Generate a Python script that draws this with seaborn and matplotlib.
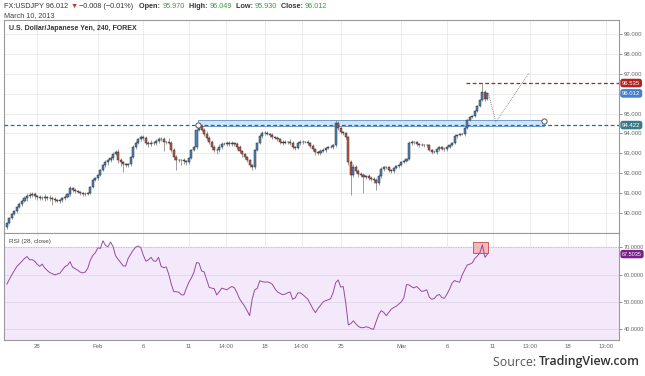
import numpy as np
import pandas as pd
import matplotlib
matplotlib.use("Agg")
import matplotlib.pyplot as plt
import seaborn as sns

# USD/JPY 4h closes, one row per trading day (Jan 24 .. Mar 8, 2013)
closes = [
    89.50, 89.75, 89.95, 90.10, 90.30, 90.48,
    90.63, 90.78, 90.88, 90.90, 90.95, 90.85,
    90.80, 90.75, 90.78, 90.80, 90.78, 90.75,
    90.70, 90.65, 90.63, 90.68, 90.75, 90.83,
    90.95, 91.26, 91.18, 91.10, 91.05, 91.00,
    90.95, 90.98, 91.00, 91.31, 91.66, 91.76,
    91.91, 92.16, 92.41, 92.56, 92.66, 92.76,
    92.96, 93.07, 92.66, 92.56, 92.46, 92.41,
    92.46, 92.81, 93.32, 93.52, 93.72, 93.82,
    93.77, 93.52, 93.47, 93.52, 93.52, 93.62,
    93.72, 93.72, 93.57, 93.57, 93.52, 93.17,
    92.81, 92.66, 92.66, 92.66, 92.61, 92.56,
    92.76, 93.17, 93.32, 94.17, 94.37, 94.17,
    93.97, 93.77, 93.57, 93.32, 93.17, 93.17,
    93.32, 93.47, 93.47, 93.52, 93.47, 93.52,
    93.47, 93.32, 93.12, 92.96, 92.81, 92.66,
    92.41, 92.31, 93.17, 93.52, 93.87, 94.02,
    94.02, 93.97, 93.92, 93.82, 93.77, 93.72,
    93.57, 93.52, 93.57, 93.57, 93.52, 93.32,
    93.27, 93.52, 93.57, 93.57, 93.57, 93.52,
    93.37, 93.22, 93.07, 93.02, 93.12, 93.17,
    93.27, 93.32, 93.32, 93.42, 94.52, 94.27,
    94.07, 94.02, 93.82, 92.56, 91.91, 92.31,
    92.11, 91.96, 91.91, 91.81, 91.86, 91.78,
    91.71, 91.66, 91.51, 91.86, 92.21, 92.31,
    92.31, 92.16, 92.11, 92.26, 92.36, 92.41,
    92.56, 92.61, 92.71, 93.52, 93.57, 93.57,
    93.47, 93.42, 93.42, 93.42, 93.42, 93.17,
    93.07, 93.07, 93.22, 93.32, 93.22, 93.22,
    93.32, 93.42, 93.52, 93.87, 93.92, 93.97,
    93.97, 94.27, 94.67, 94.82, 94.87, 95.13,
    95.38, 95.68, 96.10, 95.75, 96.012,
]
first_open = 89.30

# wick length above / below the body
up_wick = [
    .05, .06, .04, .08, .05, .07,
    .06, .10, .12, .15, .12, .10,
    .08, .12, .10, .14, .08, .12,
    .06, .10, .08, .05, .06, .10,
    .08, .10, .06, .08, .05, .06,
    .06, .08, .05, .06, .10, .06,
    .05, .08, .06, .10, .06, .12,
    .10, .08, .15, .10, .08, .06,
    .06, .05, .08, .10, .06, .12,
    .10, .12, .08, .15, .10, .08,
    .12, .10, .08, .06, .20, .10,
    .08, .10, .06, .08, .10, .06,
    .05, .06, .05, .06, .05, .10,
    .10, .15, .08, .10, .12, .08,
    .15, .10, .08, .12, .10, .08,
    .06, .08, .10, .06, .08, .05,
    .05, .06, .05, .06, .08, .10,
    .08, .10, .06, .08, .05, .08,
    .06, .10, .08, .05, .15, .08,
    .06, .12, .08, .10, .06, .08,
    .06, .08, .05, .06, .08, .10,
    .06, .05, .08, .06, .15, .10,
    .08, .06, .05, .06, .10, .15,
    .10, .12, .08, .10, .06, .08,
    .06, .10, .08, .08, .10, .06,
    .08, .06, .05, .06, .08, .05,
    .06, .05, .05, .10, .08, .06,
    .06, .05, .08, .06, .05, .06,
    .05, .08, .06, .05, .06, .08,
    .05, .06, .05, .08, .06, .05,
    .06, .05, .08, .06, .05, .06,
    .05, .06, .44, .06, .04,
]
down_wick = [
    .08, .05, .06, .05, .08, .06,
    .10, .08, .15, .12, .10, .15,
    .12, .10, .08, .15, .10, .12,
    .30, .10, .08, .12, .10, .08,
    .06, .10, .12, .08, .06, .10,
    .08, .10, .06, .05, .06, .05,
    .08, .05, .06, .10, .12, .08,
    .10, .06, .15, .20, .40, .10,
    .08, .10, .06, .08, .05, .10,
    .10, .12, .15, .08, .10, .12,
    .10, .08, .45, .10, .06, .10,
    .15, .50, .10, .25, .15, .12,
    .08, .06, .05, .08, .05, .06,
    .08, .10, .12, .15, .10, .20,
    .10, .08, .06, .10, .08, .12,
    .10, .08, .10, .12, .10, .08,
    .10, .15, .10, .06, .05, .08,
    .08, .06, .10, .08, .06, .10,
    .08, .10, .06, .08, .10, .12,
    .10, .06, .08, .10, .06, .12,
    .10, .08, .15, .10, .08, .06,
    .08, .06, .05, .08, .10, .12,
    .10, .08, .10, .15, 1.00, .10,
    .12, .15, .10, .80, .10, .12,
    .10, .15, .35, .10, .08, .10,
    .10, .08, .12, .10, .06, .08,
    .05, .06, .06, .05, .08, .10,
    .10, .08, .06, .08, .10, .06,
    .08, .06, .10, .08, .06, .10,
    .08, .06, .05, .06, .08, .06,
    .06, .08, .06, .05, .06, .05,
    .05, .06, .05, .10, .08,
]

# RSI(28, close), one value per bar
rsi_values = [
    56.4, 58.2, 59.9, 61.5, 63.0, 63.9,
    64.9, 65.9, 66.6, 65.4, 65.5, 64.9,
    63.8, 63.0, 63.8, 62.4, 61.5, 60.7,
    60.3, 59.9, 60.2, 60.5, 61.7, 62.9,
    63.4, 64.7, 62.7, 62.2, 61.6, 60.9,
    60.6, 60.9, 62.3, 65.2, 67.0, 68.0,
    69.8, 69.6, 72.4, 70.7, 70.2, 71.9,
    70.3, 66.9, 65.6, 64.4, 63.2, 63.1,
    66.0, 67.5, 69.0, 70.1, 70.5, 69.8,
    67.0, 64.9, 65.4, 66.3, 65.0, 64.9,
    66.3, 63.0, 62.5, 62.8, 60.2, 56.6,
    53.7, 53.7, 53.5, 52.6, 52.5, 55.0,
    57.2, 58.8, 60.9, 64.4, 64.2, 61.3,
    61.0, 58.2, 55.3, 55.0, 54.8, 52.5,
    53.7, 55.0, 54.7, 54.4, 55.1, 55.6,
    55.1, 53.3, 51.1, 49.7, 48.4, 46.7,
    44.9, 51.0, 54.4, 54.9, 57.7, 57.4,
    57.2, 57.3, 57.0, 56.4, 54.8, 53.6,
    53.1, 52.6, 52.8, 53.3, 53.6, 50.9,
    51.4, 53.2, 53.3, 52.6, 51.8, 50.9,
    49.2, 47.4, 46.0, 47.5, 48.7, 49.9,
    50.4, 50.7, 51.1, 53.4, 57.0, 58.0,
    55.4, 55.6, 49.5, 41.5, 42.0, 43.0,
    41.9, 40.9, 40.5, 40.5, 40.8, 40.6,
    40.1, 39.9, 42.7, 45.3, 46.7, 46.1,
    44.9, 46.1, 47.3, 47.9, 48.4, 49.2,
    50.0, 51.6, 56.3, 56.2, 55.5, 55.1,
    55.6, 54.7, 53.8, 54.0, 54.4, 51.7,
    50.9, 51.2, 52.3, 52.7, 51.5, 51.3,
    52.8, 54.6, 56.8, 57.8, 57.4, 57.2,
    59.8, 61.7, 63.5, 63.8, 64.3, 65.9,
    66.8, 68.0, 70.9, 66.3, 67.5,
]

tick_pos = [12, 36, 54, 72, 86.5, 102, 116.5, 132, 156, 174, 192, 207, 222, 237]
tick_labels = ["28", "Feb", "6", "11", "14:00", "18", "14:00", "25", "Mar",
               "6", "11", "13:00", "18", "13:00"]
price_ticks = [90, 91, 92, 93, 94, 95, 96, 97, 98, 99]
# the 96.000 label sits under the last-price marker in the original
price_labels = ["90.000", "91.000", "92.000", "93.000", "94.000", "95.000", "",
                "97.000", "98.000", "99.000"]
rsi_ticks = [40, 50, 60, 70]

support_level = 94.422
resistance_level = 96.535
last_rsi = 67.5035
zone_bars = [75.5, 212.3]
zone_prices = [94.37, 94.66]
projection_x = [190.4, 193.3, 206.4]
projection_y = [96.02, 94.58, 97.03]
rsi_box_bars = [184.4, 190.3]
rsi_box_vals = [67.8, 72.05]

# build candle table
df = pd.DataFrame({"close": closes})
df["open"] = [first_open] + closes[:-1]
df["high"] = df[["open", "close"]].max(axis=1) + np.array(up_wick)
df["low"] = df[["open", "close"]].min(axis=1) - np.array(down_wick)
df["bar"] = np.arange(len(df))
df["up"] = df["close"] >= df["open"]
last_close = closes[-1]

sns.set_theme(style="white")
plt.rcParams["font.family"] = ["Liberation Sans", "DejaVu Sans"]

W, H = 645, 376
fig = plt.figure(figsize=(W / 100, H / 100), dpi=100)
fig.patch.set_facecolor("white")


def fx(px):
    return px / W


def fy(py):
    return 1 - py / H


left, right = 4, 619
ax = fig.add_axes([fx(left), fy(233), fx(right - left), fy(20) - fy(233)])
ax2 = fig.add_axes([fx(left), fy(340), fx(right - left), fy(233) - fy(340)], sharex=ax)

grid_c = "#e9e9e9"
spine_c = "#9a9a9a"
for a in (ax, ax2):
    for t in tick_pos:
        a.axvline(t, color=grid_c, lw=0.6, zorder=0)
    for s in a.spines.values():
        s.set_color(spine_c)
        s.set_linewidth(0.8)
    a.yaxis.tick_right()
    a.tick_params(axis="y", labelsize=4.3, colors="#666666", length=2, width=0.5, pad=1.5)

for p in price_ticks:
    ax.axhline(p, color=grid_c, lw=0.6, zorder=0)

# candles
up_c, dn_c = "#4a86c4", "#cc5640"
ax.vlines(df["bar"], df["low"], df["high"], color="#777777", lw=0.5, zorder=2)
body_lo = df[["open", "close"]].min(axis=1)
body_h = (df["close"] - df["open"]).abs().clip(lower=0.015)
ax.bar(df["bar"], body_h, bottom=body_lo, width=0.82,
       color=np.where(df["up"], up_c, dn_c), edgecolor="#2b2b2b",
       linewidth=0.35, zorder=3)

# support zone and levels
ax.fill_between(zone_bars, zone_prices[0], zone_prices[1], color="#d3e4f7",
                edgecolor="#6e9fd6", lw=0.7, zorder=1)
ax.axhline(support_level, color="#2f6b82", lw=0.9, ls=(0, (3, 2)), zorder=4)
ax.plot([181.7, 245], [resistance_level] * 2, color="#b3201f", lw=0.9,
        ls=(0, (3, 2)), zorder=4)
ax.plot(projection_x, projection_y, color="#777777", lw=0.6, ls=(0, (1, 1.2)), zorder=4)
ax.scatter([zone_bars[0], zone_bars[1]], [support_level, 94.64], s=14,
           facecolor="white", edgecolor="#555555", linewidths=0.7, zorder=5)

ax.set_xlim(-1.1, 242)
ax.set_ylim(89.0, 99.70)
ax.set_yticks(price_ticks)
ax.set_yticklabels(price_labels)
ax.tick_params(axis="x", bottom=False, labelbottom=False)
ax.text(0.008, 0.962, "U.S. Dollar/Japanese Yen, 240, FOREX", transform=ax.transAxes,
        fontsize=5, color="#333333", fontweight="bold", va="center", ha="left")

# price labels on the axis
ytr = ax.get_yaxis_transform()
for val, col in [(resistance_level, "#b3201f"), (last_close, "#3f7fd6"),
                 (support_level, "#3a7a8a")]:
    ax.text(1.005, val, f"{val:.3f}", transform=ytr, fontsize=4.3, color="white",
            va="center", ha="left", zorder=6, clip_on=False,
            bbox=dict(boxstyle="round,pad=0.18,rounding_size=0.3", fc=col, ec=col))

# RSI panel
ax2.axhspan(30, 70, color="#f4e8fb", zorder=0)
for r in [40, 50, 60]:
    ax2.axhline(r, color="#e2d6ea", lw=0.6, zorder=1)
ax2.axhline(70, color="#b9aebf", lw=0.6, ls=(0, (1, 1)), zorder=1)
sns.lineplot(x=df["bar"], y=rsi_values, ax=ax2, color="#974aa3", lw=0.7, zorder=3)
ax2.fill_between(rsi_box_bars, rsi_box_vals[0], rsi_box_vals[1], color="#f3b4b4",
                 edgecolor="#c0504d", lw=0.7, alpha=0.9, zorder=2)
ax2.set_ylim(35.96, 75.25)
ax2.set_yticks(rsi_ticks)
ax2.set_yticklabels([f"{r:.4f}" for r in rsi_ticks])
ax2.set_xticks(tick_pos)
ax2.set_xticklabels(tick_labels)
ax2.set_xlabel("")
ax2.set_ylabel("")
ax2.tick_params(axis="x", labelsize=4.3, colors="#666666", length=0, pad=3)
ax2.tick_params(axis="y", labelsize=4.0)
ax2.text(0.008, 0.925, "RSI (28, close)", transform=ax2.transAxes, fontsize=4.6,
         color="#444444", va="center", ha="left")
ax2.text(1.005, last_rsi, f"{last_rsi:.4f}", transform=ax2.get_yaxis_transform(),
         fontsize=4.0, color="white", va="center", ha="left", clip_on=False,
         bbox=dict(boxstyle="round,pad=0.18,rounding_size=0.3", fc="#7b1f8c", ec="#7b1f8c"))

# header line built piece by piece
renderer = fig.canvas.get_renderer()
pieces = [("FX:USDJPY 96.012 ", "#333333", "normal"), ("\u25bc", "#c0392b", "normal"),
          (" \u22120.008 (\u22120.01%)   ", "#333333", "normal"),
          ("Open: ", "#333333", "bold"), ("95.970", "#3a9a3a", "normal"),
          ("  High: ", "#333333", "bold"), ("96.049", "#3a9a3a", "normal"),
          ("  Low: ", "#333333", "bold"), ("95.930", "#3a9a3a", "normal"),
          ("  Close: ", "#333333", "bold"), ("96.012", "#3a9a3a", "normal")]
xpos = fx(4)
for txt, col, wt in pieces:
    t = fig.text(xpos, fy(6), txt, fontsize=5.2, color=col, fontweight=wt,
                 va="center", ha="left")
    bb = t.get_window_extent(renderer)
    xpos += bb.width / W
fig.text(fx(4), fy(15.5), "March 10, 2013", fontsize=5.2, color="#444444",
         va="center", ha="left")

# source note
t1 = fig.text(fx(640), fy(362), "TradingView.com", fontsize=8.9, color="#333333",
              fontweight="semibold", family=["Open Sans", "DejaVu Sans"],
              va="center", ha="right")
bb = t1.get_window_extent(renderer)
fig.text(bb.x0 / W, fy(362), "Source: ", fontsize=8.9, color="#555555",
         family=["Open Sans", "DejaVu Sans"], va="center", ha="right")

fig.savefig("out.png", dpi=100, facecolor="white")
